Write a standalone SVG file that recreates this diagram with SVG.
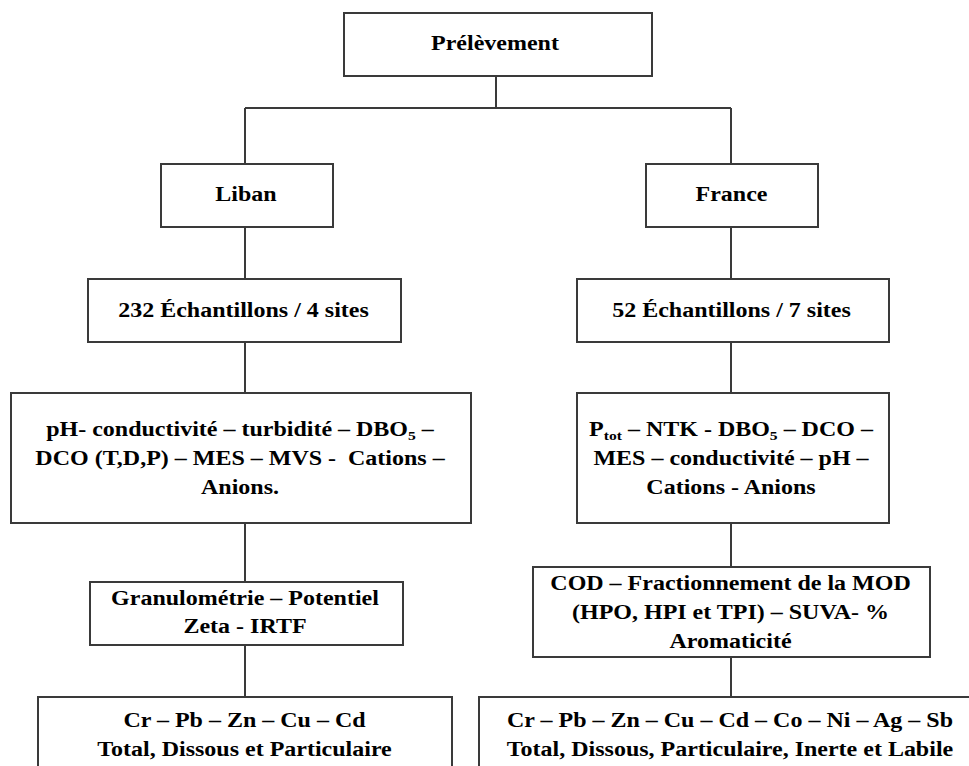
<svg xmlns="http://www.w3.org/2000/svg" width="969" height="766" viewBox="0 0 969 766">
<style>
.box{fill:#fff;stroke:#3a3a3a;stroke-width:2}
.conn line{stroke:#3a3a3a;stroke-width:2}
text{font-family:"Liberation Serif","Times New Roman",serif;font-weight:bold;font-size:20px;fill:#000;text-anchor:middle}
.sub{font-size:13px}
</style>
<rect width="969" height="766" fill="#fff"/>
<g id="connectors" class="conn">
<line x1="496" y1="76" x2="496" y2="108"/>
<line x1="245" y1="108" x2="731" y2="108"/>
<line x1="245" y1="108" x2="245" y2="164"/>
<line x1="731" y1="108" x2="731" y2="164"/>
<line x1="245" y1="227" x2="245" y2="279"/>
<line x1="731" y1="227" x2="731" y2="279"/>
<line x1="245" y1="342" x2="245" y2="393"/>
<line x1="731" y1="342" x2="731" y2="393"/>
<line x1="245" y1="523" x2="245" y2="582"/>
<line x1="731" y1="523" x2="731" y2="567"/>
<line x1="245" y1="645" x2="245" y2="697"/>
<line x1="731" y1="657" x2="731" y2="697"/>
</g>
<g id="prelevement">
<rect class="box" x="344" y="13" width="308" height="63"/>
<g transform="translate(495 50) scale(1.2 1)"><text x="0" y="0">Prélèvement</text></g>
</g>
<g id="liban">
<rect class="box" x="161" y="164" width="172" height="63"/>
<g transform="translate(246 201) scale(1.2 1)"><text x="0" y="0">Liban</text></g>
</g>
<g id="france">
<rect class="box" x="646" y="164" width="172" height="63"/>
<g transform="translate(731.5 201) scale(1.2 1)"><text x="0" y="0">France</text></g>
</g>
<g id="liban-echantillons">
<rect class="box" x="88" y="279" width="313" height="63"/>
<g transform="translate(243.5 316.5) scale(1.2 1)"><text x="0" y="0">232 Échantillons / 4 sites</text></g>
</g>
<g id="france-echantillons">
<rect class="box" x="577" y="279" width="312" height="63"/>
<g transform="translate(731.5 316.5) scale(1.2 1)"><text x="0" y="0">52 Échantillons / 7 sites</text></g>
</g>
<g id="liban-parametres">
<rect class="box" x="11" y="393" width="460" height="130"/>
<g transform="translate(240 0) scale(1.2 1)">
<text x="0" y="436.5">pH- conductivité – turbidité – DBO<tspan class="sub" dy="4">5</tspan><tspan dy="-4"> –</tspan></text>
<text x="0" y="465.5">DCO (T,D,P) – MES – MVS -&#160; Cations –</text>
<text x="0" y="494">Anions.</text>
</g>
</g>
<g id="france-parametres">
<rect class="box" x="577" y="393" width="312" height="130"/>
<g transform="translate(731 0) scale(1.2 1)">
<text x="0" y="436.5">P<tspan class="sub" dy="4">tot</tspan><tspan dy="-4"> – NTK - DBO</tspan><tspan class="sub" dy="4">5</tspan><tspan dy="-4"> – DCO –</tspan></text>
<text x="0" y="465.5">MES – conductivité – pH –</text>
<text x="0" y="494">Cations - Anions</text>
</g>
</g>
<g id="liban-granulometrie">
<rect class="box" x="90" y="582" width="313" height="63"/>
<g transform="translate(245 0) scale(1.2 1)">
<text x="0" y="605">Granulométrie – Potentiel</text>
<text x="0" y="633.3">Zeta - IRTF</text>
</g>
</g>
<g id="france-cod">
<rect class="box" x="533" y="567" width="397" height="90"/>
<g transform="translate(730.5 0) scale(1.2 1)">
<text x="0" y="590">COD – Fractionnement de la MOD</text>
<text x="0" y="619.3">(HPO, HPI et TPI) – SUVA- %</text>
<text x="0" y="648.3">Aromaticité</text>
</g>
</g>
<g id="liban-metaux">
<rect class="box" x="38" y="697" width="414" height="90"/>
<g transform="translate(244.5 0) scale(1.2 1)">
<text x="0" y="727.3">Cr – Pb – Zn – Cu – Cd</text>
<text x="0" y="755.7">Total, Dissous et Particulaire</text>
</g>
</g>
<g id="france-metaux">
<rect class="box" x="479" y="697" width="506" height="90"/>
<g transform="translate(730 0) scale(1.2 1)">
<text x="0" y="727.3">Cr – Pb – Zn – Cu – Cd – Co – Ni – Ag – Sb</text>
<text x="0" y="755.7">Total, Dissous, Particulaire, Inerte et Labile</text>
</g>
</g>
</svg>
